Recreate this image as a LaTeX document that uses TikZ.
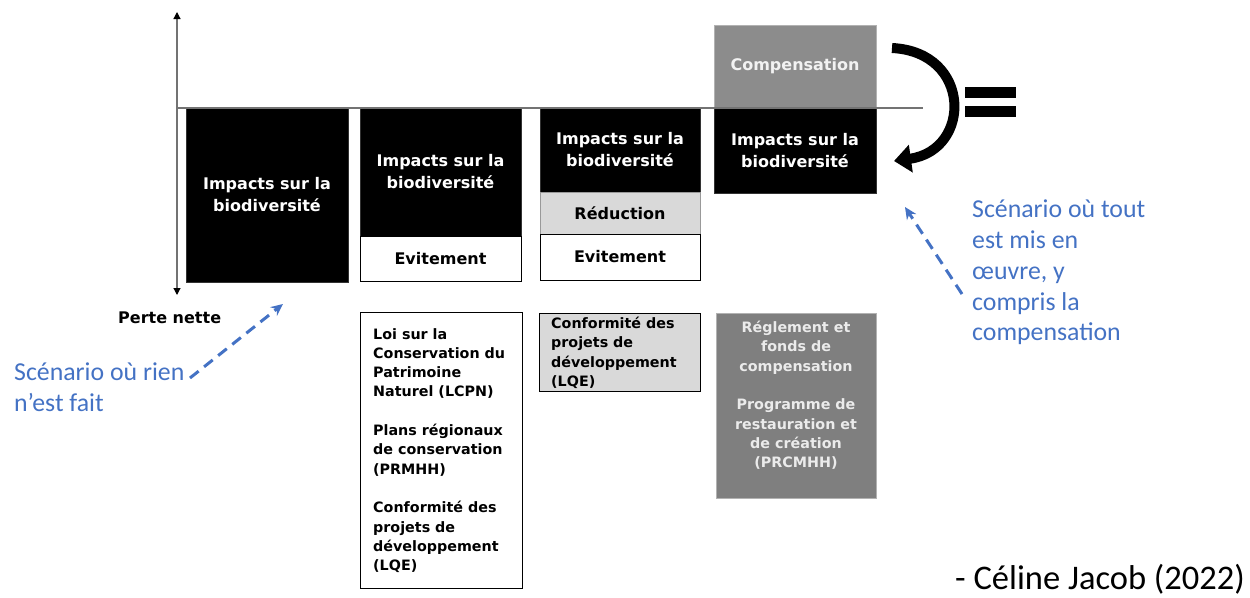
\documentclass[tikz,border=0pt]{standalone}
\usepackage{fontspec}
\setmainfont{DejaVu Sans}
\newfontfamily\carl{Carlito}
\usetikzlibrary{arrows.meta,calc}
\definecolor{sceneblue}{HTML}{4472C4}
\definecolor{compgray}{HTML}{8C8C8C}
\definecolor{deepgray}{HTML}{7F7F7F}
\definecolor{palegray}{HTML}{D9D9D9}
\begin{document}
\begin{tikzpicture}[x=1pt,y=-1pt,
  boxbase/.style={anchor=north west, inner sep=0pt, outer sep=0pt, align=center,
    font=\bfseries\fontsize{16}{22}\selectfont},
  blackbox/.style={boxbase, draw=black!80, fill=black, text=white},
  whitebox/.style={boxbase, draw=black, line width=1pt, fill=white, text=black},
  lightbox/.style={boxbase, draw=black!40, fill=palegray, text=black},
  graybox/.style={boxbase, draw=black!30, fill=compgray, text=white!95!black},
  listtext/.style={inner sep=0pt, font=\bfseries\fontsize{14.3}{19.3}\selectfont},
  bluetext/.style={inner sep=0pt, anchor=north west, align=left, text=sceneblue,
    font=\carl\fontsize{25.8}{30.7}\selectfont},
  bluearrow/.style={draw=sceneblue, line width=3pt, dash pattern=on 11pt off 7pt,
    -{Stealth[length=12pt,width=11pt]}},
  axisline/.style={draw=black!55, line width=1.2pt},
]
\useasboundingbox (0,0) rectangle (1250,597);

% axis
\coordinate (ytop) at (177,12);
\coordinate (ybot) at (177,295);
\coordinate (origin) at (177,108);
\coordinate (xend) at (923,108);
\draw[axisline, {Triangle[length=7pt,width=7pt,fill=black,color=black]}-{Triangle[length=7pt,width=7pt,fill=black,color=black]}] (ytop) -- (ybot);

% column 1
\node[blackbox, minimum width=162, minimum height=174] (imp1) at (186,108) {Impacts sur la\\biodiversité};

% column 2
\node[blackbox, minimum width=161, minimum height=128] (imp2) at (360,108) {Impacts sur la\\biodiversité};
\node[whitebox, minimum width=161, minimum height=45] (evi2) at (360,236) {Evitement};

% column 3
\node[blackbox, minimum width=160, minimum height=84] (imp3) at (540,108) {Impacts sur la\\biodiversité};
\node[lightbox, minimum width=160, minimum height=42] (red3) at (540,192) {Réduction};
\node[whitebox, minimum width=160, minimum height=46] (evi3) at (540,234) {Evitement};

% column 4
\node[graybox, minimum width=162, minimum height=83] (comp4) at (714,25) {Compensation};
\node[blackbox, minimum width=162, minimum height=85] (imp4) at (714,108) {Impacts sur la\\biodiversité};

\draw[axisline] (origin) -- (xend);

% curved arrow and equal sign
\coordinate (cstart) at (892,48);
\coordinate (cend) at (894,161);
\draw[line width=10pt, -{Triangle[length=17pt,width=27pt]}] (cstart) .. controls (972,52) and (972,150) .. (cend);
\fill[black] (965,87) rectangle (1016,98);
\fill[black] (965,106) rectangle (1016,117);

% lower boxes
\node[whitebox, minimum width=162, minimum height=276] (law2) at (360,312) {};
\node[listtext, anchor=north west, align=left] (law2t) at ($(law2.north west)+(13,16)$)
  {Loi sur la\\Conservation du\\Patrimoine\\Naturel (LCPN)\\[19.3pt]Plans régionaux\\de conservation\\(PRMHH)\\[19.3pt]Conformité des\\projets de\\développement\\(LQE)};

\node[boxbase, draw=black, line width=1pt, fill=palegray, minimum width=161, minimum height=78] (law3) at (539,313) {};
\node[listtext, anchor=north west, align=left] (law3t) at ($(law3.north west)+(12,4)$)
  {Conformité des\\projets de\\développement\\(LQE)};

\node[graybox, fill=deepgray, minimum width=160, minimum height=185] (law4) at (716,313) {};
\node[listtext, anchor=north, align=center, text=white!92!black] (law4t) at ($(law4.north)+(0,8)$)
  {Réglement et\\fonds de\\compensation\\[19.3pt]Programme de\\restauration et\\de création\\(PRCMHH)};

% labels
\node[anchor=base west, inner sep=0pt, font=\bfseries\fontsize{16}{19}\selectfont] (perte) at (118,323) {Perte nette};

\node[bluetext] (scen1) at (14,363) {Scénario où rien\\n’est fait};
\coordinate (a1tail) at (190,378);
\coordinate (a1head) at (283,304);
\draw[bluearrow] (a1tail) -- (a1head);

\node[bluetext] (scen2) at (972,200) {Scénario où tout\\est mis en\\œuvre, y\\compris la\\compensation};
\coordinate (a2tail) at (962,294);
\coordinate (a2head) at (905,207);
\draw[bluearrow] (a2tail) -- (a2head);

\node[anchor=base west, inner sep=0pt, font=\carl\fontsize{34.5}{36}\selectfont] (credit) at (955,589) {- Céline Jacob (2022)};
\end{tikzpicture}
\end{document}
